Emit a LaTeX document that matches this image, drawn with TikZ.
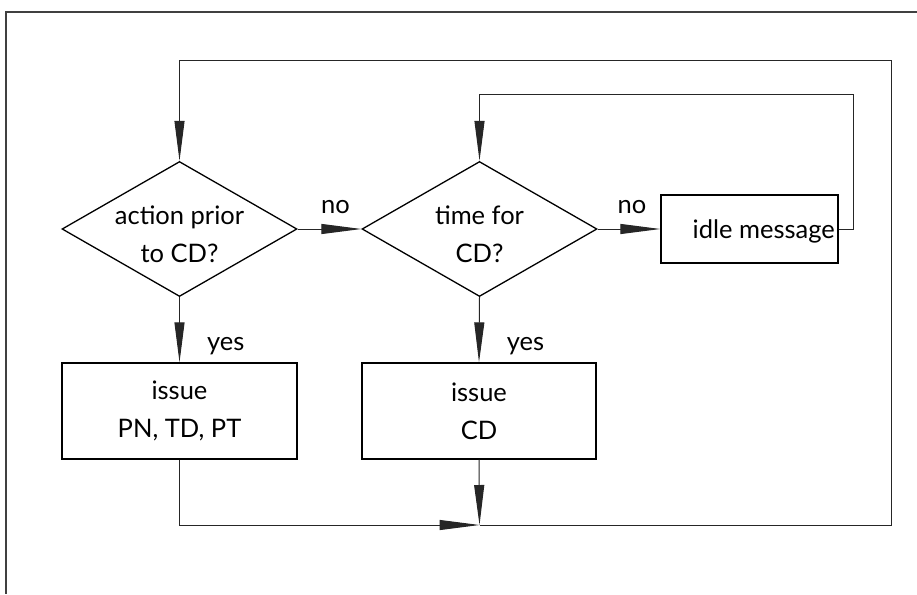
\documentclass[tikz,border=0pt]{standalone}
\usepackage{fontspec}
\setmainfont{Lato}
\usetikzlibrary{shapes.geometric,arrows.meta}
\begin{document}
\begin{tikzpicture}[x=1pt,y=-1pt,
  every node/.style={font=\fontsize{25.5}{38}\selectfont},
  decision/.style={draw=black,line width=1.3pt,diamond,inner sep=0pt,minimum width=235pt,minimum height=135pt},
  dtext/.style={inner sep=0pt,align=center},
  procbox/.style={draw=black,line width=1.3pt,rectangle,inner sep=0pt,align=center},
  conn/.style={line width=1pt,draw=black!85},
  arr/.style={conn,-{Triangle[length=40pt,width=10pt]}},
  lbl/.style={inner sep=0pt}
]
\useasboundingbox (0,0) rectangle (917,594);
% frame (open to the right and bottom)
\draw[line width=1.6pt,black!75] (917,12) -- (6,12) -- (6,594);

\node[decision] (d1) at (179.5,229) {};
\node[dtext] (d1t) at (179.5,234) {action prior\\to CD?};
\node[decision] (d2) at (479.5,229) {};
\node[dtext] (d2t) at (479.5,234) {time for\\CD?};
\node[procbox,minimum width=235pt,minimum height=96pt] (b1) at (179.5,411) {issue\\PN, TD, PT};
\node[procbox,minimum width=234pt,minimum height=96pt] (b2) at (479,411) {issue\\CD};
\node[procbox,minimum width=177pt,minimum height=68pt] (idle) at (749.5,229) {};
\node[lbl,anchor=east] (idletxt) at (835,231) {idle message};

\coordinate (m) at (479.5,525);
\coordinate (c1) at (853,94);
\coordinate (c3) at (891,60);

\draw[arr] (d1.east) -- (d2.west) node[lbl,midway,above=15pt,xshift=6pt] (no1) {no};
\draw[arr] (d2.east) -- (idle.west) node[lbl,midway,above=15pt,xshift=3pt] (no2) {no};
\draw[arr] (d1.south) -- (b1.north) node[lbl,midway,right=27pt,yshift=-16pt] (yes1) {yes};
\draw[arr] (d2.south) -- (b2.north) node[lbl,midway,right=27pt,yshift=-16pt] (yes2) {yes};
\draw[conn] (idle.east) -| (c1);
\draw[arr] (c1) -| (d2.north);
\draw[arr] (b1.south) |- (m);
\draw[arr] (b2.south) -- (m);
\draw[conn] (m) -| (c3);
\draw[arr] (c3) -| (d1.north);
\end{tikzpicture}
\end{document}
